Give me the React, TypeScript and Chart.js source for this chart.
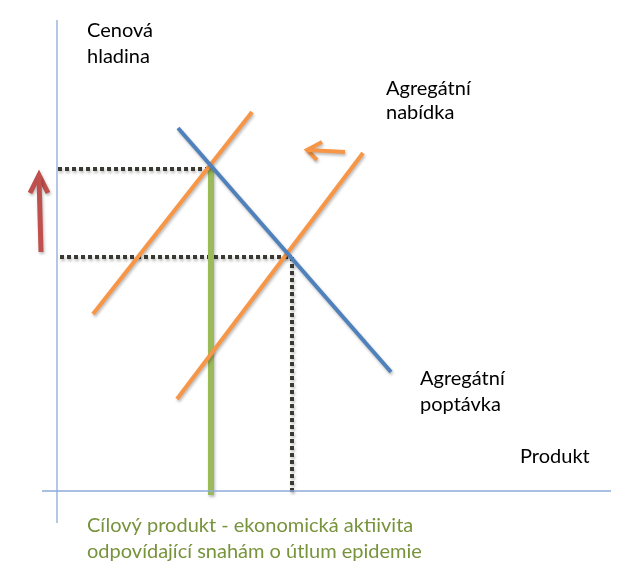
import React, { useEffect, useRef } from "react";
import { Chart, registerables } from "chart.js";

Chart.register(...registerables);

// Coordinates: x = product (units from origin), y = price level (units from origin)
const yAxisLine = [{ x: 0, y: -32 }, { x: 0, y: 471 }];
const xAxisLine = [{ x: -15, y: 0 }, { x: 554, y: 0 }];
const demandAD = [{ x: 121, y: 363 }, { x: 334, y: 119 }];
const supplyAS1 = [{ x: 36, y: 177 }, { x: 195, y: 379 }];
const supplyAS2 = [{ x: 120, y: 92 }, { x: 306, y: 338 }];
const targetProduct = [{ x: 154, y: 325 }, { x: 154, y: -4 }];
const priceHigh = [{ x: 1, y: 322 }, { x: 154, y: 322 }];
const priceLow = [{ x: 3, y: 234 }, { x: 235, y: 234 }];
const productEq = [{ x: 235, y: 234 }, { x: 235, y: -4 }];
const shiftArrowShaft = [{ x: 288, y: 339 }, { x: 251, y: 341 }];
const shiftArrowHead = [{ x: 265, y: 349 }, { x: 250, y: 341 }, { x: 260, y: 331 }];
const priceArrowShaft = [{ x: -16, y: 239 }, { x: -18, y: 314 }];
const priceArrowHead = [{ x: -27, y: 298 }, { x: -18, y: 316 }, { x: -9, y: 298 }];

const labelTexts = [
  "Cenová", "hladina",
  "Agregátní", "nabídka",
  "Agregátní", "poptávka",
  "Produkt",
  "Cílový produkt - ekonomická aktiivita",
  "odpovídající snahám o útlum epidemie",
];
const labelX = [30, 30, 329, 329, 363, 363, 463, 30, 30];
const labelY = [454, 428, 396, 372, 106, 80, 28, -41, -67];
const labelColors = ["#000", "#000", "#000", "#000", "#000", "#000", "#000", "#77933C", "#77933C"];

const BLUE = "#4F81BD";
const ORANGE = "#F79646";
const GREEN = "#9BBB59";
const RED = "#C0504D";
const DOT = "#3A3A32";
const AXIS = "#8EAADB";

export default function App() {
  const ref = useRef<HTMLCanvasElement | null>(null);

  useEffect(() => {
    if (!ref.current) return;
    const line = (data: any[], color: string, width: number, extra: any = {}) => ({
      data,
      showLine: true,
      borderColor: color,
      backgroundColor: color,
      borderWidth: width,
      pointRadius: 0,
      pointHoverRadius: 0,
      fill: false,
      tension: 0,
      clip: false,
      borderCapStyle: "butt",
      ...extra,
    });
    const shadowed = new Set([2, 3, 4, 5, 6, 7, 8, 9, 10, 11, 12, 13]);

    const shadowPlugin = {
      id: "shadowPlugin",
      beforeDatasetDraw(chart: any, args: any) {
        const ctx = chart.ctx;
        ctx.save();
        if (shadowed.has(args.index)) {
          ctx.shadowColor = "rgba(0,0,0,0.28)";
          ctx.shadowBlur = 3;
          ctx.shadowOffsetX = 1;
          ctx.shadowOffsetY = 2;
        }
      },
      afterDatasetDraw(chart: any) {
        chart.ctx.restore();
      },
    };

    const textPlugin = {
      id: "textPlugin",
      afterDraw(chart: any) {
        const ctx = chart.ctx;
        const xs = chart.scales.x;
        const ys = chart.scales.y;
        ctx.save();
        ctx.font = '20px Lato, "Noto Sans", sans-serif';
        ctx.textBaseline = "alphabetic";
        ctx.textAlign = "left";
        labelTexts.forEach((t, i) => {
          ctx.fillStyle = labelColors[i];
          ctx.fillText(t, xs.getPixelForValue(labelX[i]), ys.getPixelForValue(labelY[i]));
        });
        ctx.restore();
      },
    };

    const chart = new Chart(ref.current, {
      type: "scatter",
      data: {
        datasets: [
          line(yAxisLine, AXIS, 1.3),
          line(xAxisLine, AXIS, 1.3),
          line(demandAD, BLUE, 4),
          line(supplyAS1, ORANGE, 4),
          line(supplyAS2, ORANGE, 4),
          line(targetProduct, GREEN, 6),
          line(priceHigh, DOT, 4, { borderDash: [4, 3] }),
          line(priceLow, DOT, 4, { borderDash: [4, 3] }),
          line(productEq, DOT, 4, { borderDash: [4, 3] }),
          line(shiftArrowShaft, ORANGE, 4),
          line(shiftArrowHead, ORANGE, 4, { borderJoinStyle: "miter" }),
          line(priceArrowShaft, RED, 5),
          line(priceArrowHead, RED, 5, { borderJoinStyle: "miter" }),
        ] as any,
      },
      options: {
        animation: false,
        responsive: true,
        maintainAspectRatio: false,
        layout: { padding: 0 },
        events: [],
        plugins: { legend: { display: false }, tooltip: { enabled: false } },
        scales: {
          x: { type: "linear", min: -57, max: 575, display: false },
          y: { type: "linear", min: -90, max: 491, display: false },
        },
      } as any,
      plugins: [shadowPlugin, textPlugin],
    });
    return () => chart.destroy();
  }, []);

  return (
    <div style={{ position: "absolute", left: 0, top: 0, width: 632, height: 581, background: "#fff" }}>
      <canvas ref={ref} />
    </div>
  );
}
